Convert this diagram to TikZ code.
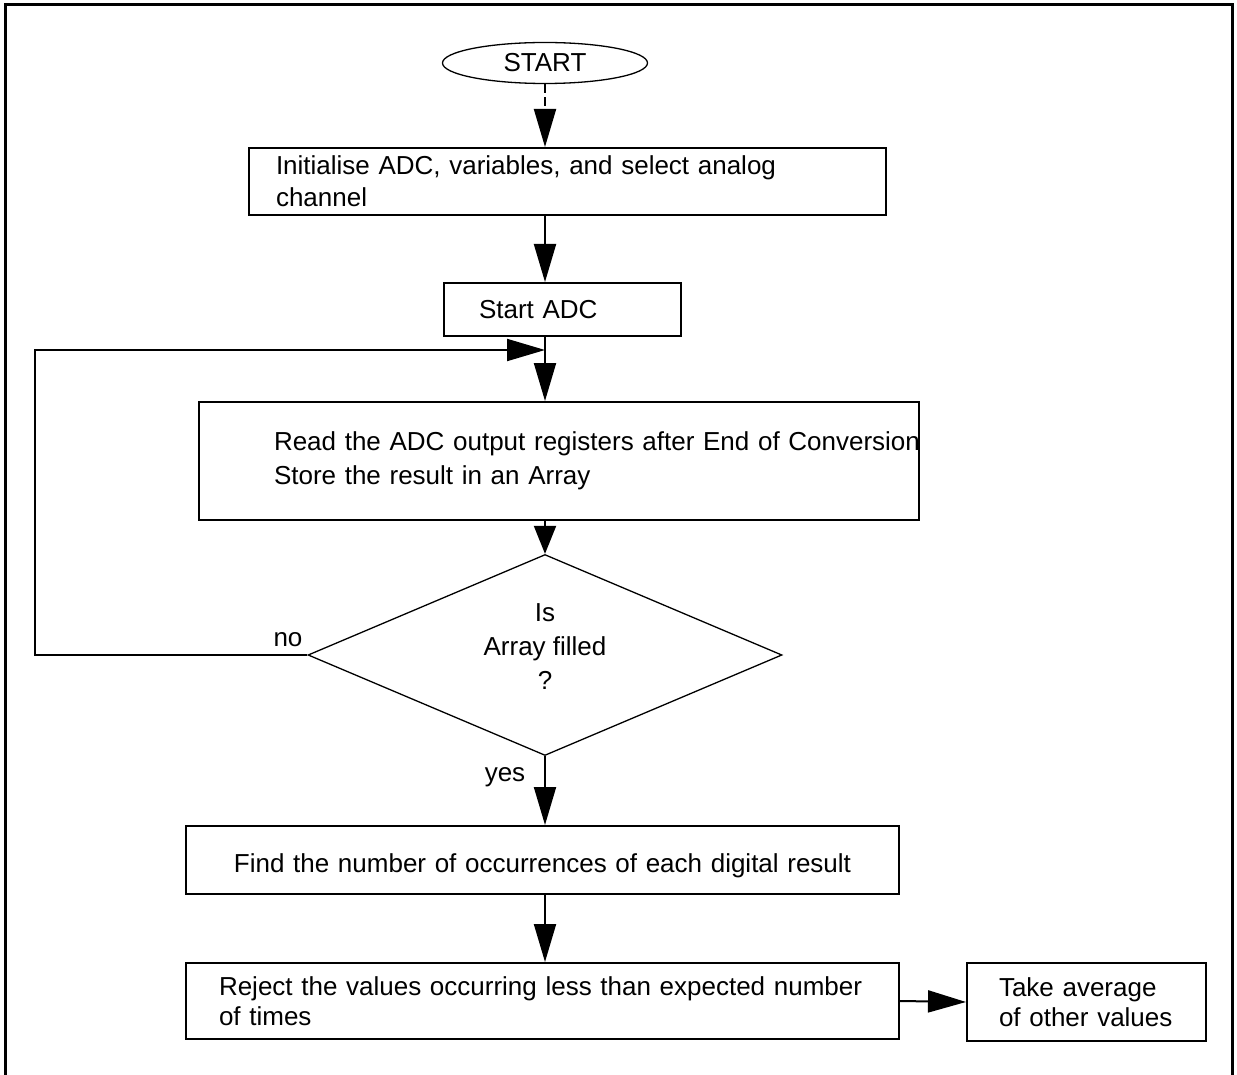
\documentclass[tikz,border=0pt]{standalone}
\usepackage{fontspec}
\setmainfont{Liberation Sans}
\usetikzlibrary{arrows.meta,shapes,positioning}

\begin{document}
\begin{tikzpicture}[x=1pt,y=-1pt,
    font=\fontsize{26}{32}\selectfont,
    box/.style={draw, line width=2pt, anchor=north west, align=left, inner ysep=0pt},
    flow/.style={line width=2pt, -{Triangle[length=38pt,width=22pt]}}]
  \useasboundingbox (0,0) rectangle (1237,1075);
  \draw[line width=3pt] (5,1075) -- (5,5) -- (1232,5) -- (1232,1075); % frame
  \node[draw, ellipse, line width=1.3pt, minimum width=205pt, minimum height=41pt, inner sep=0pt] (start) at (545,63) {START};
  \node[box, minimum height=67pt, inner xsep=27pt, text width=583pt] (init) at (248,147) {Initialise ADC, variables, and select analog\\channel};
  \node[box, minimum height=53pt, inner xsep=35pt, text width=167pt] (adc) at (443,282) {Start ADC};
  \node[box, minimum height=118pt, inner xsep=75pt, text width=570pt, font=\fontsize{26}{34}\selectfont] (read) at (198,401) {\mbox{Read the ADC output registers after End of Conversion}\\Store the result in an Array};
  \node[draw, diamond, aspect=2.36, line width=1.3pt, minimum width=474pt, minimum height=201pt, inner sep=0pt,
        label={[align=center, yshift=8pt, font=\fontsize{26}{34}\selectfont]center:{Is\\Array filled\\?}}] (fill) at (545,655) {};
  \node[box, minimum height=68pt, inner xsep=10pt, text width=693pt, text height=30pt, text depth=6pt, align=center] (count) at (185,825) {Find the number of occurrences of each digital result};
  \node[box, minimum height=76pt, inner xsep=33pt, text width=647pt, font=\fontsize{26}{30}\selectfont] (reject) at (185,962) {\mbox{Reject the values occurring less than expected number}\\of times};
  \node[box, minimum height=78pt, inner xsep=32pt, text width=175pt, font=\fontsize{26}{30}\selectfont] (avg) at (966,962) {Take average\\\mbox{of other values}};
  \node (no) at (288,640) {no};
  \node (yes) at (505,777) {yes};
  \coordinate (join) at (545,350);
  % connectors
  \draw[flow, dash pattern=on 9pt off 4pt] (start.south) -- (start |- init.north);
  \draw[flow] (start |- init.south) -- (start |- adc.north);
  \draw[flow] (start |- adc.south) -- (start |- read.north);
  \draw[flow, -{Triangle[length=28pt,width=22pt]}] (start |- read.south) -- (fill.north);
  \draw[flow] (fill.west) -- ++(-272,0) |- (join);
  \draw[flow] (fill.south) -- (fill |- count.north);
  \draw[flow] (fill |- count.south) -- (fill |- reject.north);
  \draw[flow] (reject.east) -- (avg.west);
\end{tikzpicture}
\end{document}
